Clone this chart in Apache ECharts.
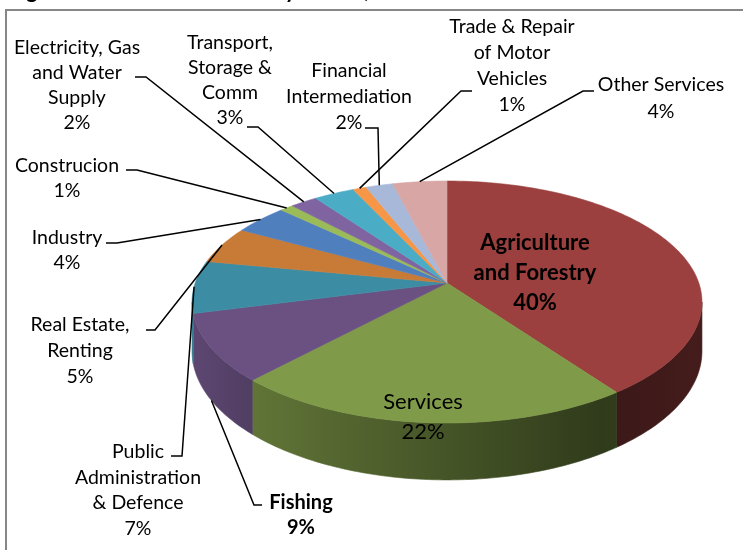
<!DOCTYPE html>
<html>
<head>
<meta charset="utf-8">
<script src="https://cdn.jsdelivr.net/npm/echarts@6/dist/echarts.min.js"></script>
<style>
  html, body { margin: 0; padding: 0; background: #ffffff; }
  #chart { width: 743px; height: 550px; }
</style>
</head>
<body>
<div id="chart"></div>
<script>
// GDP share by sector (%), clockwise from 12 o'clock
const sectors = [
  'Agriculture and Forestry', 'Services', 'Fishing',
  'Public Administration & Defence', 'Real Estate, Renting', 'Industry',
  'Construcion', 'Electricity, Gas and Water Supply', 'Transport, Storage & Comm',
  'Trade & Repair of Motor Vehicles', 'Financial Intermediation', 'Other Services'
];
const shares = [40, 22, 9, 7, 5, 4, 1, 2, 3, 1, 2, 4];
const labelText = [
  'Agriculture\nand Forestry', 'Services', 'Fishing',
  'Public\nAdministration\n& Defence', 'Real Estate,\nRenting', 'Industry',
  'Construcion', 'Electricity, Gas\nand Water\nSupply', 'Transport,\nStorage &\nComm',
  'Trade & Repair\nof Motor\nVehicles', 'Financial\nIntermediation', 'Other Services'
];
const topColors = [
  '#9b403e', '#7f9a48', '#6a5182', '#3c8da4', '#c87a37', '#4f80bd',
  '#9bbb59', '#8064a2', '#4bacc6', '#f79646', '#a7b8d9', '#d8a6a5'
];

// Label placement: block centre, font, and leader path (label end -> elbow)
const labelLayout = [
  { x: 535, y: 273, size: 22, bold: true,  lh: 30 },
  { x: 423, y: 417, size: 22, bold: false, lh: 30 },
  { x: 301, y: 515, size: 20, bold: true,  lh: 25, lead: [[262, 505], [254, 505]], side: true },
  { x: 138, y: 490, size: 19.5, bold: false, lh: 25.5, lead: [[171, 456], [182, 456]] },
  { x: 80,  y: 351, size: 19.5, bold: false, lh: 26, lead: [[146, 330], [155, 330]] },
  { x: 67,  y: 250, size: 19.5, bold: false, lh: 25, lead: [[106, 243], [117, 243]] },
  { x: 67,  y: 178, size: 19.5, bold: false, lh: 25, lead: [[126, 170], [137, 170]] },
  { x: 77,  y: 85,  size: 19.5, bold: false, lh: 25, lead: [[135, 77], [146, 77]] },
  { x: 230, y: 80,  size: 19.5, bold: false, lh: 25, lead: [[247, 127], [258, 127]] },
  { x: 512, y: 66,  size: 19.5, bold: false, lh: 26, lead: [[472, 91], [461, 91]] },
  { x: 349, y: 97,  size: 19.5, bold: false, lh: 26, lead: [[365, 128], [378, 128]] },
  { x: 661, y: 98,  size: 19.5, bold: false, lh: 27, lead: [[594, 91], [583, 91]] }
];

const total = shares.reduce((a, b) => a + b, 0);
const startFrac = [];
shares.reduce((acc, v) => { startFrac.push(acc / total); return acc + v; }, 0);

// Tilted disc with perspective: centre, radii, perspective factor, thickness
const geo = { cx: 447, cy: 283, a: 251.8, b: 118, e: 0.157, depth: 48 };
function project(theta, drop) {
  const u = Math.sin(theta), v = -Math.cos(theta), w = 1 - geo.e * v;
  return [geo.cx + geo.a * u / w, geo.cy + (geo.b * v + drop) / w];
}
function arc(a, b, drop) {
  const n = Math.max(2, Math.ceil((b - a) / (Math.PI / 180)));
  const pts = [];
  for (let k = 0; k <= n; k++) pts.push(project(a + (b - a) * k / n, drop));
  return pts;
}
const visFrom = Math.acos(-geo.e), visTo = 2 * Math.PI - visFrom;

function shade(hex, f) {
  const n = parseInt(hex.slice(1), 16);
  const r = Math.round(((n >> 16) & 255) * f), g = Math.round(((n >> 8) & 255) * f), b = Math.round((n & 255) * f);
  return 'rgb(' + r + ',' + g + ',' + b + ')';
}
function sideFill(hex) {
  return {
    type: 'linear', x: 193, y: 0, x2: 703, y2: 0, global: true,
    colorStops: [
      { offset: 0, color: shade(hex, 0.88) },
      { offset: 0.11, color: shade(hex, 0.76) },
      { offset: 0.8, color: shade(hex, 0.38) },
      { offset: 1, color: shade(hex, 0.44) }
    ]
  };
}
function angles(i, v) {
  const t0 = startFrac[i] * 2 * Math.PI;
  return [t0, t0 + v / total * 2 * Math.PI];
}

const chart = echarts.init(document.getElementById('chart'), null, { renderer: 'canvas' });
const data = shares.map((v, i) => ({ name: sectors[i], value: [i, v] }));

chart.setOption({
  animation: false,
  graphic: [
    { type: 'rect', z: 0, shape: { x: 6, y: 10, width: 800, height: 600 },
      style: { fill: 'none', stroke: '#878787', lineWidth: 2 } },
    { type: 'text', z: 0, left: 8, top: -20,
      style: { text: 'Figure 2: Structure of GDP by Sector, 2010', font: 'bold 22px Lato', fill: '#000' } }
  ],
  series: [
    {
      type: 'custom', coordinateSystem: 'none', z: 2, data: data,
      renderItem: function (params, api) {
        const i = params.dataIndex;
        const [t0, t1] = angles(i, api.value(1));
        const color = topColors[i];
        const children = [];
        const s0 = Math.max(t0, visFrom), s1 = Math.min(t1, visTo);
        if (s1 > s0) {
          const pts = arc(s0, s1, 0).concat(arc(s0, s1, geo.depth).reverse());
          children.push({ type: 'polygon', shape: { points: pts }, style: { fill: sideFill(color), stroke: sideFill(color), lineWidth: 0.6 } });
        }
        children.push({
          type: 'polygon',
          shape: { points: [[geo.cx, geo.cy]].concat(arc(t0, t1, 0)) },
          style: { fill: color, stroke: color, lineWidth: 0.6 }
        });
        return { type: 'group', children: children };
      }
    },
    {
      type: 'custom', coordinateSystem: 'none', z: 3, data: data, silent: true,
      renderItem: function (params, api) {
        const i = params.dataIndex;
        const v = api.value(1);
        const L = labelLayout[i];
        const children = [{
          type: 'text',
          style: {
            text: labelText[i] + '\n' + v + '%',
            x: L.x, y: L.y, align: 'center', verticalAlign: 'middle',
            font: (L.bold ? 'bold ' : '') + L.size + 'px Lato', lineHeight: L.lh, fill: '#000'
          }
        }];
        if (L.lead) {
          const [t0, t1] = angles(i, v);
          const tip = project((t0 + t1) / 2, L.side ? geo.depth : 0);
          children.push({
            type: 'polyline',
            shape: { points: L.lead.concat([tip]) },
            style: { stroke: '#000', lineWidth: 1.5, fill: 'none' }
          });
        }
        return { type: 'group', children: children };
      }
    }
  ]
});
</script>
</body>
</html>
